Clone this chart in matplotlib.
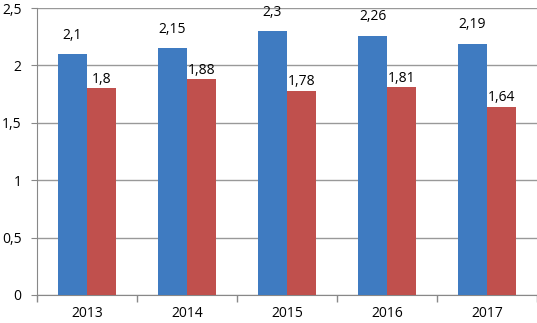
import matplotlib
matplotlib.use("Agg")
import matplotlib.pyplot as plt
import numpy as np

years = ["2013", "2014", "2015", "2016", "2017"]
series_a = [2.1, 2.15, 2.3, 2.26, 2.19]
series_b = [1.8, 1.88, 1.78, 1.81, 1.64]
yticks = [0, 0.5, 1, 1.5, 2, 2.5]

plt.rcParams['font.family'] = ['Open Sans', 'DejaVu Sans']

fig = plt.figure(figsize=(5.37, 3.23), dpi=100)
ax = fig.add_axes([37/537, 1-295/323, 1-37/537, (295-8)/323])

x = np.arange(len(years))
w = 0.29
blue = "#3F7BC1"
red = "#C0504D"
ba = ax.bar(x - w/2, series_a, w, color=blue, zorder=3)
bb = ax.bar(x + w/2, series_b, w, color=red, zorder=3)

def fmt(v):
    return (f"{v:g}").replace(".", ",")

for r, v in zip(ba, series_a):
    ax.annotate(fmt(v), (r.get_x() + r.get_width()/2, v), xytext=(0, 8),
                textcoords="offset points", ha="center", va="bottom", fontsize=10)
for r, v in zip(bb, series_b):
    ax.annotate(fmt(v), (r.get_x() + r.get_width()/2, v), xytext=(0, 1),
                textcoords="offset points", ha="center", va="bottom", fontsize=10)

ax.set_xlim(-0.5, len(years) - 0.5)
ax.set_ylim(0, 2.5)
ax.set_yticks(yticks)
ax.set_yticklabels([fmt(t) for t in yticks], fontsize=10)
ax.set_xticks(x)
ax.set_xticklabels(years, fontsize=10)
ax.set_xticks(np.arange(len(years) + 1) - 0.5, minor=True)
ax.tick_params(axis="x", which="major", length=0, pad=8)
ax.tick_params(axis="x", which="minor", length=5, color="#888888", width=1)
ax.tick_params(axis="y", length=4, color="#888888", pad=7)

ax.grid(axis="y", color="#999999", linewidth=1, zorder=0)
for s in ["top", "right"]:
    ax.spines[s].set_visible(False)
for s in ["left", "bottom"]:
    ax.spines[s].set_color("#888888")

fig.savefig("out.png", dpi=100)
